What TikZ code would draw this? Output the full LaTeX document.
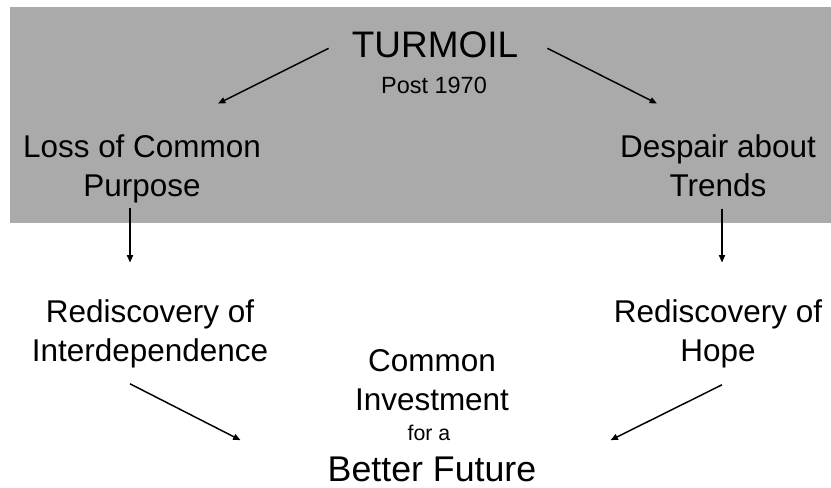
\documentclass[tikz,border=0pt]{standalone}
\usepackage{fontspec}
\setmainfont{Liberation Sans}
\usetikzlibrary{arrows.meta}

\definecolor{bandgray}{RGB}{170,170,170}

\tikzset{
  txt/.style={inner sep=0pt, align=center, anchor=base},
  big/.style={font=\fontsize{27.7}{33}\selectfont},
  mid/.style={font=\fontsize{23.6}{28.8}\selectfont},
  small/.style={font=\fontsize{16}{19}\selectfont},
  arr/.style={line width=1.1pt, -{Triangle[length=5.5pt,width=4.5pt]}},
}

\begin{document}
\begin{tikzpicture}[x=0.75pt,y=-0.75pt]
  \useasboundingbox (0,0) rectangle (831,487);
  \fill[bandgray] (10,7) rectangle (831,223);

  % base of a two-line node is the baseline of its last line
  \node[txt, big] (turmoil) at (435,57) {TURMOIL};
  \node[txt, font=\fontsize{17.6}{21}\selectfont] (post) at (434,93) {Post 1970};

  \node[txt, mid] (loss) at (142,196) {Loss of Common\\Purpose};
  \node[txt, mid] (despair) at (718,196) {Despair about\\Trends};

  \node[txt, mid] (interdep) at (150,361) {Rediscovery of\\Interdependence};
  \node[txt, mid] (hope) at (718,361) {Rediscovery of\\Hope};

  \node[txt, mid] (common) at (432,410) {Common\\Investment};
  \node[txt, small] (fora) at (429,440) {for a};
  \node[txt, font=\fontsize{26.8}{32}\selectfont] (better) at (432,481) {Better Future};

  \draw[arr] ([shift={(-23,4)}]turmoil.west) -- ([shift={(76,-31)}]loss.north);
  \draw[arr] ([shift={(29,4)}]turmoil.east) -- ([shift={(-61,-31)}]despair.north);
  \draw[arr] ([shift={(-12,5)}]loss.south) -- ([shift={(-20,-37)}]interdep.north);
  \draw[arr] ([shift={(4,12)}]despair.south) -- ([shift={(4,-37)}]hope.north);
  \draw[arr] ([shift={(-20,16)}]interdep.south) -- ([shift={(-87,-16)}]better.north west);
  \draw[arr] ([shift={(4,17)}]hope.south) -- ([shift={(74,-16)}]better.north east);
\end{tikzpicture}
\end{document}
